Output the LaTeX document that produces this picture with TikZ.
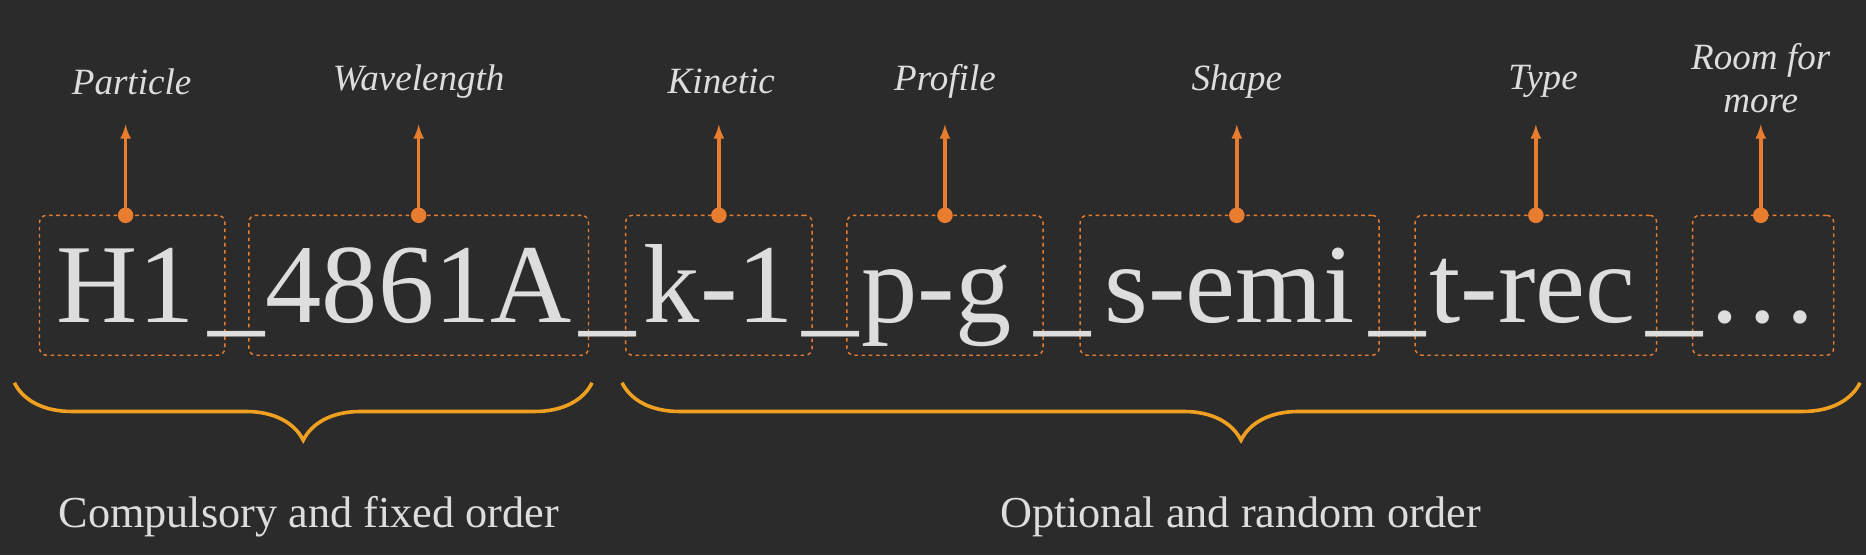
\documentclass[tikz,border=0pt]{standalone}
\usepackage{fontspec}
\setmainfont{Liberation Serif}
\usepackage{tikz}
\usetikzlibrary{decorations.pathreplacing}
\usetikzlibrary{positioning}
\definecolor{bg}{HTML}{2B2B2B}
\definecolor{ink}{HTML}{DDDDDD}
\definecolor{tag}{HTML}{E87D2F}
\definecolor{bracecol}{HTML}{F0A020}
\tikzset{
  part/.style={draw=tag, dashed, rounded corners=6pt, line width=1.2pt, minimum height=117pt, inner sep=0pt},
  word/.style={text=ink, anchor=base, font=\fontsize{94}{94}\selectfont},
  lbl/.style={text=ink, font=\fontsize{31}{36}\selectfont\itshape, align=center},
  arr/.style={->, >=latex, tag, line width=3pt},
  dot/.style={circle, fill=tag, inner sep=0pt, minimum size=13pt},
  bracepath/.style={draw=bracecol, line width=3pt, decorate, decoration={brace, mirror, amplitude=48pt}},
  txt/.style={text=ink, font=\fontsize{37}{37}\selectfont}
}
\begin{document}
\begin{tikzpicture}[x=1pt,y=1pt]
  \fill[bg] (0,0) rectangle (1560,464);
  \useasboundingbox (0,0) rectangle (1560,464);
  % boxes
  \node[part, minimum width=155pt] (b1) at (110.5,225.5) {};
  \node[part, minimum width=284pt] (b2) at (350,225.5) {};
  \node[part, minimum width=156pt] (b3) at (601,225.5) {};
  \node[part, minimum width=164pt] (b4) at (790,225.5) {};
  \node[part, minimum width=250pt] (b5) at (1028,225.5) {};
  \node[part, minimum width=202pt] (b6) at (1284,225.5) {};
  \node[part, minimum width=118pt] (b7) at (1474,225.5) {};
  % words
  \node[word] (w1) at (105,194) {H1};
  \node[word] (w2) at (350,194) {4861A};
  \node[word] (w3) at (601,194) {k-1};
  \node[word] (w4) at (783,194) {p-g};
  \node[word] (w5) at (1028,194) {s-emi};
  \node[word] (w6) at (1281,194) {t-rec};
  \node[word] (w7) at (1474,194) {\dots};
  \node[word] (u1) at (198,194) {\_};
  \node[word] (u2) at (508,194) {\_};
  \node[word] (u3) at (694,194) {\_};
  \node[word] (u4) at (888,194) {\_};
  \node[word] (u5) at (1168,194) {\_};
  \node[word] (u6) at (1400,194) {\_};
  % labels
  \node[lbl] (l1) at (110,396) {Particle};
  \node[lbl] (l2) at (350,396) {Wavelength};
  \node[lbl] (l3) at (603,396) {Kinetic};
  \node[lbl] (l4) at (790,396) {Profile};
  \node[lbl] (l5) at (1034,396) {Shape};
  \node[lbl] (l6) at (1290,396) {Type};
  \node[lbl] (l7) at (1472,399) {Room for\\more};
  \foreach \i/\x in {1/105,2/350,3/601,4/790,5/1034,6/1284,7/1472}{
    \node[dot] (d\i) at (\x,284) {};
    \draw[arr] (d\i.center) -- (\x,360);
  }
  % braces
  \draw[bracepath] (12,144) -- (495,144);
  \draw[bracepath] (520,144) -- (1555,144);
  \node[txt] (c1) at (258,32) {Compulsory and fixed order};
  \node[txt] (c2) at (1037,32) {Optional and random order};
\end{tikzpicture}
\end{document}
